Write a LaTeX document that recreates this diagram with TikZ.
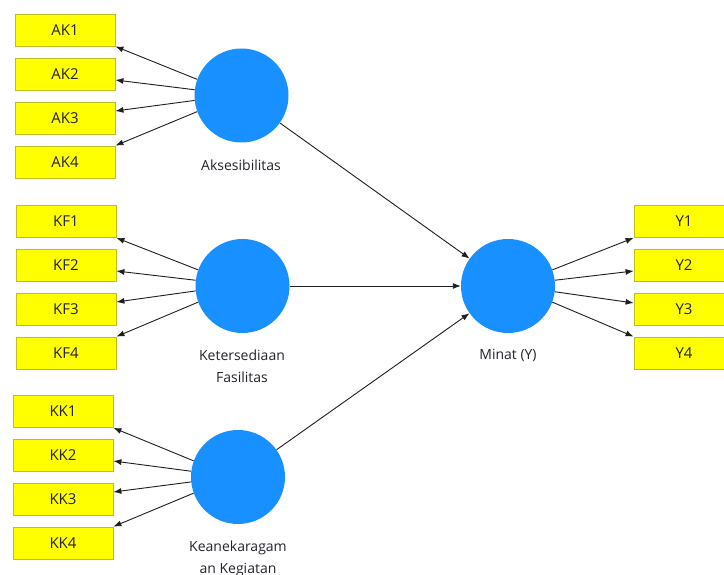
\documentclass[tikz,border=0pt]{standalone}
\usepackage{fontspec}
\setmainfont{Open Sans}
\usetikzlibrary{arrows.meta}
\definecolor{boxfill}{RGB}{255,255,0}
\definecolor{boxline}{RGB}{190,190,40}
\definecolor{lvblue}{RGB}{24,144,255}
\definecolor{txt}{RGB}{35,35,45}
\definecolor{arrcol}{RGB}{30,30,30}
\begin{document}
\begin{tikzpicture}[x=1pt,y=-1pt,
  ind/.style={rectangle,draw=boxline,fill=boxfill,line width=0.8pt,minimum width=100pt,minimum height=32pt,inner sep=0pt,font=\fontsize{15}{17}\selectfont,text=txt},
  lv/.style={circle,fill=lvblue,minimum size=94pt,inner sep=0pt},
  lab/.style={font=\fontsize{14}{22}\selectfont,text=txt,align=center},
  arr/.style={draw=arrcol,line width=0.9pt,-{Latex[length=8pt,width=6pt]}}]
\useasboundingbox (0,0) rectangle (724,575);
\clip (0,0) rectangle (724,575);
% indicators
\node[ind] (ak1) at (65,30) {AK1};
\node[ind] (ak2) at (65,74) {AK2};
\node[ind] (ak3) at (65,118) {AK3};
\node[ind] (ak4) at (65,162) {AK4};
\node[ind] (kf1) at (66,221.5) {KF1};
\node[ind] (kf2) at (66,265) {KF2};
\node[ind] (kf3) at (66,309) {KF3};
\node[ind] (kf4) at (66,353) {KF4};
\node[ind] (kk1) at (63,411.5) {KK1};
\node[ind] (kk2) at (63,455) {KK2};
\node[ind] (kk3) at (63,499) {KK3};
\node[ind] (kk4) at (63,543) {KK4};
\node[ind] (y1) at (684,221.5) {Y1};
\node[ind] (y2) at (684,265) {Y2};
\node[ind] (y3) at (684,309) {Y3};
\node[ind] (y4) at (684,353) {Y4};
% latent variables
\node[lv] (aks) at (241.5,95.5) {};
\node[lv] (kf) at (242.5,286) {};
\node[lv] (kk) at (238,477) {};
\node[lv] (minat) at (508,286) {};
% labels
\node[lab] (aksl) at (241,165) {Aksesibilitas};
\node[lab] (kfl) at (242,366) {Ketersediaan\\Fasilitas};
\node[lab] (kkl) at (238,559) {Keanekaragam\\an Kegiatan};
\node[lab] (minatl) at (508,355) {Minat (Y)};
% outer loadings
\draw[arr] (aks.160) -- (ak1.south east);
\draw[arr] (aks.173) -- ([yshift=-6pt]ak2.east);
\draw[arr] (aks.186) -- ([yshift=7pt]ak3.east);
\draw[arr] (aks.200) -- (ak4.north east);
\draw[arr] (kf.160) -- (kf1.south east);
\draw[arr] (kf.173) -- ([yshift=-6pt]kf2.east);
\draw[arr] (kf.186) -- ([yshift=7pt]kf3.east);
\draw[arr] (kf.200) -- (kf4.north east);
\draw[arr] (kk.160) -- (kk1.south east);
\draw[arr] (kk.173) -- ([yshift=-6pt]kk2.east);
\draw[arr] (kk.186) -- ([yshift=7pt]kk3.east);
\draw[arr] (kk.200) -- (kk4.north east);
\draw[arr] (minat.20) -- (y1.south west);
\draw[arr] (minat.7) -- ([yshift=-6pt]y2.west);
\draw[arr] (minat.-7) -- ([yshift=6pt]y3.west);
\draw[arr] (minat.-20) -- (y4.north west);
% structural paths
\draw[arr] (aks) -- (minat);
\draw[arr] (kf) -- (minat);
\draw[arr] (kk) -- (minat);
\end{tikzpicture}
\end{document}
